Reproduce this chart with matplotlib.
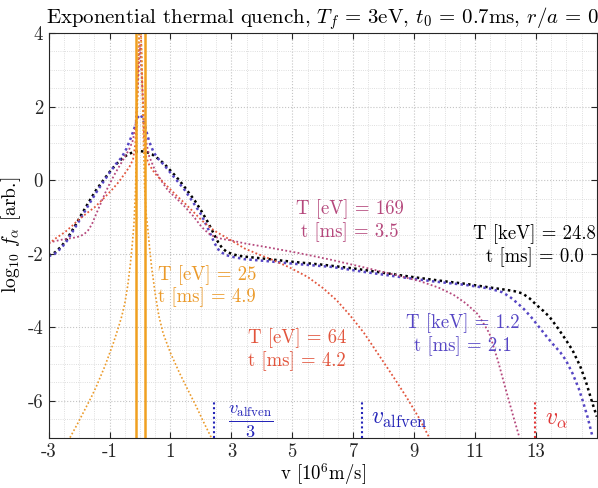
import matplotlib
matplotlib.use("Agg")
import matplotlib.pyplot as plt
from matplotlib.ticker import MultipleLocator

plt.rcParams['font.family'] = 'serif'
plt.rcParams['font.serif'] = ['cmr10', 'DejaVu Serif']
plt.rcParams['mathtext.fontset'] = 'cm'
plt.rcParams['axes.unicode_minus'] = False

# T = 24.8 keV, t = 0.0 ms
v_black = [-3.0, -2.8, -2.58, -2.4, -2.14, -1.9, -1.65, -1.45, -1.25, -1.0, -0.8, -0.6, -0.4,
           -0.2, 0.0, 0.2, 0.4, 0.6, 0.8, 1.0, 1.2, 1.4, 1.6, 1.8, 2.0, 2.2, 2.4, 2.56, 2.7,
           2.85, 3.0, 3.2, 3.44, 4.15, 5.0, 6.0, 7.0, 8.0, 9.0, 10.0, 10.7, 11.5, 12.0, 12.3,
           12.56, 12.8, 13.0, 13.25, 13.45, 13.7, 13.95, 14.2, 14.45, 14.65, 14.85, 15.0]
f_black = [-2.05, -1.97, -1.8, -1.6, -1.25, -0.9, -0.55, -0.28, -0.05, 0.22, 0.42, 0.58, 0.7,
           0.77, 0.79, 0.77, 0.7, 0.58, 0.44, 0.26, 0.08, -0.12, -0.34, -0.56, -0.82, -1.1, -1.42,
           -1.68, -1.85, -1.95, -2.0, -2.05, -2.08, -2.14, -2.22, -2.3, -2.4, -2.52, -2.64, -2.75,
           -2.82, -2.92, -2.98, -3.02, -3.08, -3.22, -3.38, -3.56, -3.72, -4.0, -4.3, -4.62,
           -5.05, -5.5, -6.05, -6.43]

# T = 1.2 keV, t = 2.1 ms
v_blue = [-3.0, -2.8, -2.58, -2.4, -2.14, -1.9, -1.65, -1.45, -1.25, -1.0, -0.8, -0.6, -0.45,
          -0.3, -0.17, -0.08, 0.0, 0.08, 0.17, 0.3, 0.45, 0.6, 0.8, 1.0, 1.2, 1.47, 1.7, 2.02,
          2.25, 2.45, 2.6, 2.8, 3.0, 3.44, 4.15, 5.0, 6.3, 7.4, 8.5, 9.6, 10.7, 11.5, 11.9,
          12.14, 12.4, 12.6, 12.85, 13.1, 13.35, 13.55, 13.8, 13.98, 14.2, 14.4, 14.53, 14.7,
          14.86]
f_blue = [-2.07, -2.0, -1.84, -1.65, -1.3, -0.97, -0.62, -0.35, -0.1, 0.2, 0.43, 0.62, 0.85,
          1.15, 1.45, 1.7, 1.78, 1.7, 1.45, 1.05, 0.75, 0.58, 0.4, 0.2, 0.0, -0.27, -0.55, -0.95,
          -1.35, -1.72, -1.92, -2.03, -2.08, -2.15, -2.2, -2.27, -2.36, -2.5, -2.63, -2.75, -2.85,
          -2.95, -3.05, -3.17, -3.35, -3.5, -3.73, -3.99, -4.25, -4.45, -4.68, -4.89, -5.25,
          -5.65, -5.98, -6.45, -6.98]

# T = 169 eV, t = 3.5 ms
v_mag = [-3.0, -2.75, -2.46, -2.2, -2.04, -1.85, -1.7, -1.58, -1.48, -1.3, -1.15, -1.0, -0.82,
         -0.65, -0.5, -0.35, -0.23, -0.15, -0.08, 0.0, 0.08, 0.13, 0.2, 0.3, 0.49, 0.7, 0.91,
         1.2, 1.47, 1.75, 2.02, 2.25, 2.45, 2.7, 3.0, 3.44, 4.15, 5.2, 6.3, 7.4, 8.5, 9.2, 9.8,
         10.3, 10.7, 11.1, 11.47, 11.75, 12.03, 12.25, 12.46]
f_mag = [-1.7, -1.65, -1.6, -1.57, -1.54, -1.48, -1.36, -1.2, -1.0, -0.65, -0.36, -0.1, 0.18,
         0.42, 0.63, 0.85, 1.09, 1.5, 2.4, 3.67, 2.4, 1.6, 1.05, 0.65, 0.27, -0.02, -0.27,
         -0.5, -0.72, -0.98, -1.27, -1.45, -1.54, -1.6, -1.64, -1.72, -1.82, -1.98, -2.17, -2.38,
         -2.6, -2.75, -2.92, -3.12, -3.35, -3.65, -4.16, -4.9, -5.75, -6.4, -7.0]

# T = 64 eV, t = 4.2 ms
v_red = [-3.0, -2.75, -2.46, -2.2, -2.04, -1.75, -1.48, -1.2, -0.93, -0.7, -0.5, -0.35, -0.23,
         -0.15, -0.08, -0.04, 0.0, 0.04, 0.08, 0.12, 0.16, 0.3, 0.49, 0.7, 0.91, 1.2, 1.47,
         1.75, 2.02, 2.25, 2.45, 2.7, 3.0, 3.44, 3.9, 4.36, 4.9, 5.5, 6.0, 6.45, 6.9, 7.35,
         8.0, 8.4, 8.75, 9.15, 9.5]
f_red = [-1.73, -1.57, -1.41, -1.22, -1.09, -0.9, -0.73, -0.5, -0.27, -0.05, 0.18, 0.36, 0.56,
         1.0, 2.5, 3.7, 4.5, 3.7, 2.5, 1.4, 0.72, 0.42, 0.18, 0.0, -0.18, -0.42, -0.63, -0.86,
         -1.09, -1.25, -1.38, -1.5, -1.64, -1.86, -2.02, -2.17, -2.37, -2.63, -2.93, -3.26,
         -3.68, -4.15, -4.95, -5.45, -5.9, -6.45, -7.0]

# T = 25 eV, t = 4.9 ms
v_orange = [-2.3, -2.05, -1.85, -1.6, -1.43, -1.15, -0.88, -0.7, -0.6, -0.5, -0.4, -0.32,
            -0.25, -0.2, -0.15, -0.1, -0.05, 0.0, 0.05, 0.1, 0.15, 0.2, 0.26, 0.32, 0.38, 0.5,
            0.62, 0.76, 1.0, 1.3, 1.6, 1.85, 2.1, 2.34]
f_orange = [-7.0, -6.62, -6.3, -5.9, -5.6, -5.05, -4.44, -3.98, -3.7, -3.35, -2.85, -2.3,
            -1.7, -1.2, -0.3, 1.5, 3.5, 5.0, 3.5, 1.5, -0.2, -0.9, -1.36, -1.9, -2.36, -3.1,
            -3.7, -4.17, -4.7, -5.25, -5.75, -6.16, -6.6, -7.0]
v_orange_lines = [-0.145, 0.15]

# characteristic speeds
v_alfven3 = 2.43
v_alfven = 7.29
v_alpha = 12.98

c_black = '#000000'
c_blue = '#5646c4'
c_mag = '#b5487c'
c_red = '#e2553d'
c_orange = '#eb9a2a'
c_va = '#2424b8'
c_valpha = '#e03535'

fig = plt.figure(figsize=(5.98, 4.88), dpi=100)
ax = fig.add_axes([0.0814, 0.1033, 0.9166, 0.829])

dot = (0, (1, 1.3))
ax.plot(v_black, f_black, color=c_black, lw=1.8, ls=dot)
ax.plot(v_blue, f_blue, color=c_blue, lw=1.8, ls=dot)
ax.plot(v_mag, f_mag, color=c_mag, lw=1.3, ls=dot)
ax.plot(v_red, f_red, color=c_red, lw=1.3, ls=dot)
ax.plot(v_orange, f_orange, color=c_orange, lw=1.2, ls=dot)
for xv in v_orange_lines:
    ax.axvline(xv, color='#f0a020', lw=1.8)

# speed markers
ax.plot([v_alfven3, v_alfven3], [-7, -6], color=c_va, lw=1.5, ls=dot)
ax.plot([v_alfven, v_alfven], [-7, -6], color=c_va, lw=1.5, ls=dot)
ax.plot([v_alpha, v_alpha], [-7, -6], color=c_valpha, lw=1.5, ls=dot)
ax.text(3.65, -6.55, r'$\frac{v_{\rm alfven}}{3}$', color=c_va, fontsize=19,
        ha='center', va='center')
ax.text(8.5, -6.5, r'$v_{\rm alfven}$', color=c_va, fontsize=17,
        ha='center', va='center')
ax.text(13.67, -6.5, r'$v_\alpha$', color=c_valpha, fontsize=17,
        ha='center', va='center')

# labels of the curves
fs = 13.5
ax.text(6.9, -1.1, 'T [eV] = 169\nt [ms] = 3.5', color=c_mag, fontsize=fs,
        ha='center', va='center', linespacing=1.2)
ax.text(12.95, -1.78, 'T [keV] = 24.8\nt [ms] = 0.0', color=c_black, fontsize=fs,
        ha='center', va='center', linespacing=1.2)
ax.text(2.2, -2.88, 'T [eV] = 25\nt [ms] = 4.9', color=c_orange, fontsize=fs,
        ha='center', va='center', linespacing=1.2)
ax.text(5.15, -4.6, 'T [eV] = 64\nt [ms] = 4.2', color=c_red, fontsize=fs,
        ha='center', va='center', linespacing=1.2)
ax.text(10.6, -4.2, 'T [keV] = 1.2\nt [ms] = 2.1', color=c_blue, fontsize=fs,
        ha='center', va='center', linespacing=1.2)

ax.set_xlim(-3, 15)
ax.set_ylim(-7, 4)
ax.set_xticks(range(-3, 15, 2))
ax.set_yticks(range(-6, 5, 2))
ax.xaxis.set_minor_locator(MultipleLocator(0.5))
ax.yaxis.set_minor_locator(MultipleLocator(0.5))
ax.grid(True, which='major', color='#c4c4c4', ls=':', lw=0.8)
ax.grid(True, which='minor', color='#d4d4d4', ls=':', lw=0.6)
ax.tick_params(which='major', direction='in', top=True, right=True, length=4,
               labelsize=13.5, color='#262626', labelcolor='#262626', pad=4)
ax.tick_params(which='minor', length=0)
for s in ax.spines.values():
    s.set_color('#262626')
    s.set_linewidth(0.8)

ax.set_xlabel(r'v [$10^6$m/s]', fontsize=13.5, labelpad=0)
ax.set_ylabel(r'$\log_{10}\,f_\alpha$ [arb.]', fontsize=14, labelpad=3)
ax.set_title(r'Exponential thermal quench, $T_f$ = 3eV, $t_0$ = 0.7ms, $r/a$ = 0',
             fontsize=15, pad=7)

fig.savefig('out.png', dpi=100)
